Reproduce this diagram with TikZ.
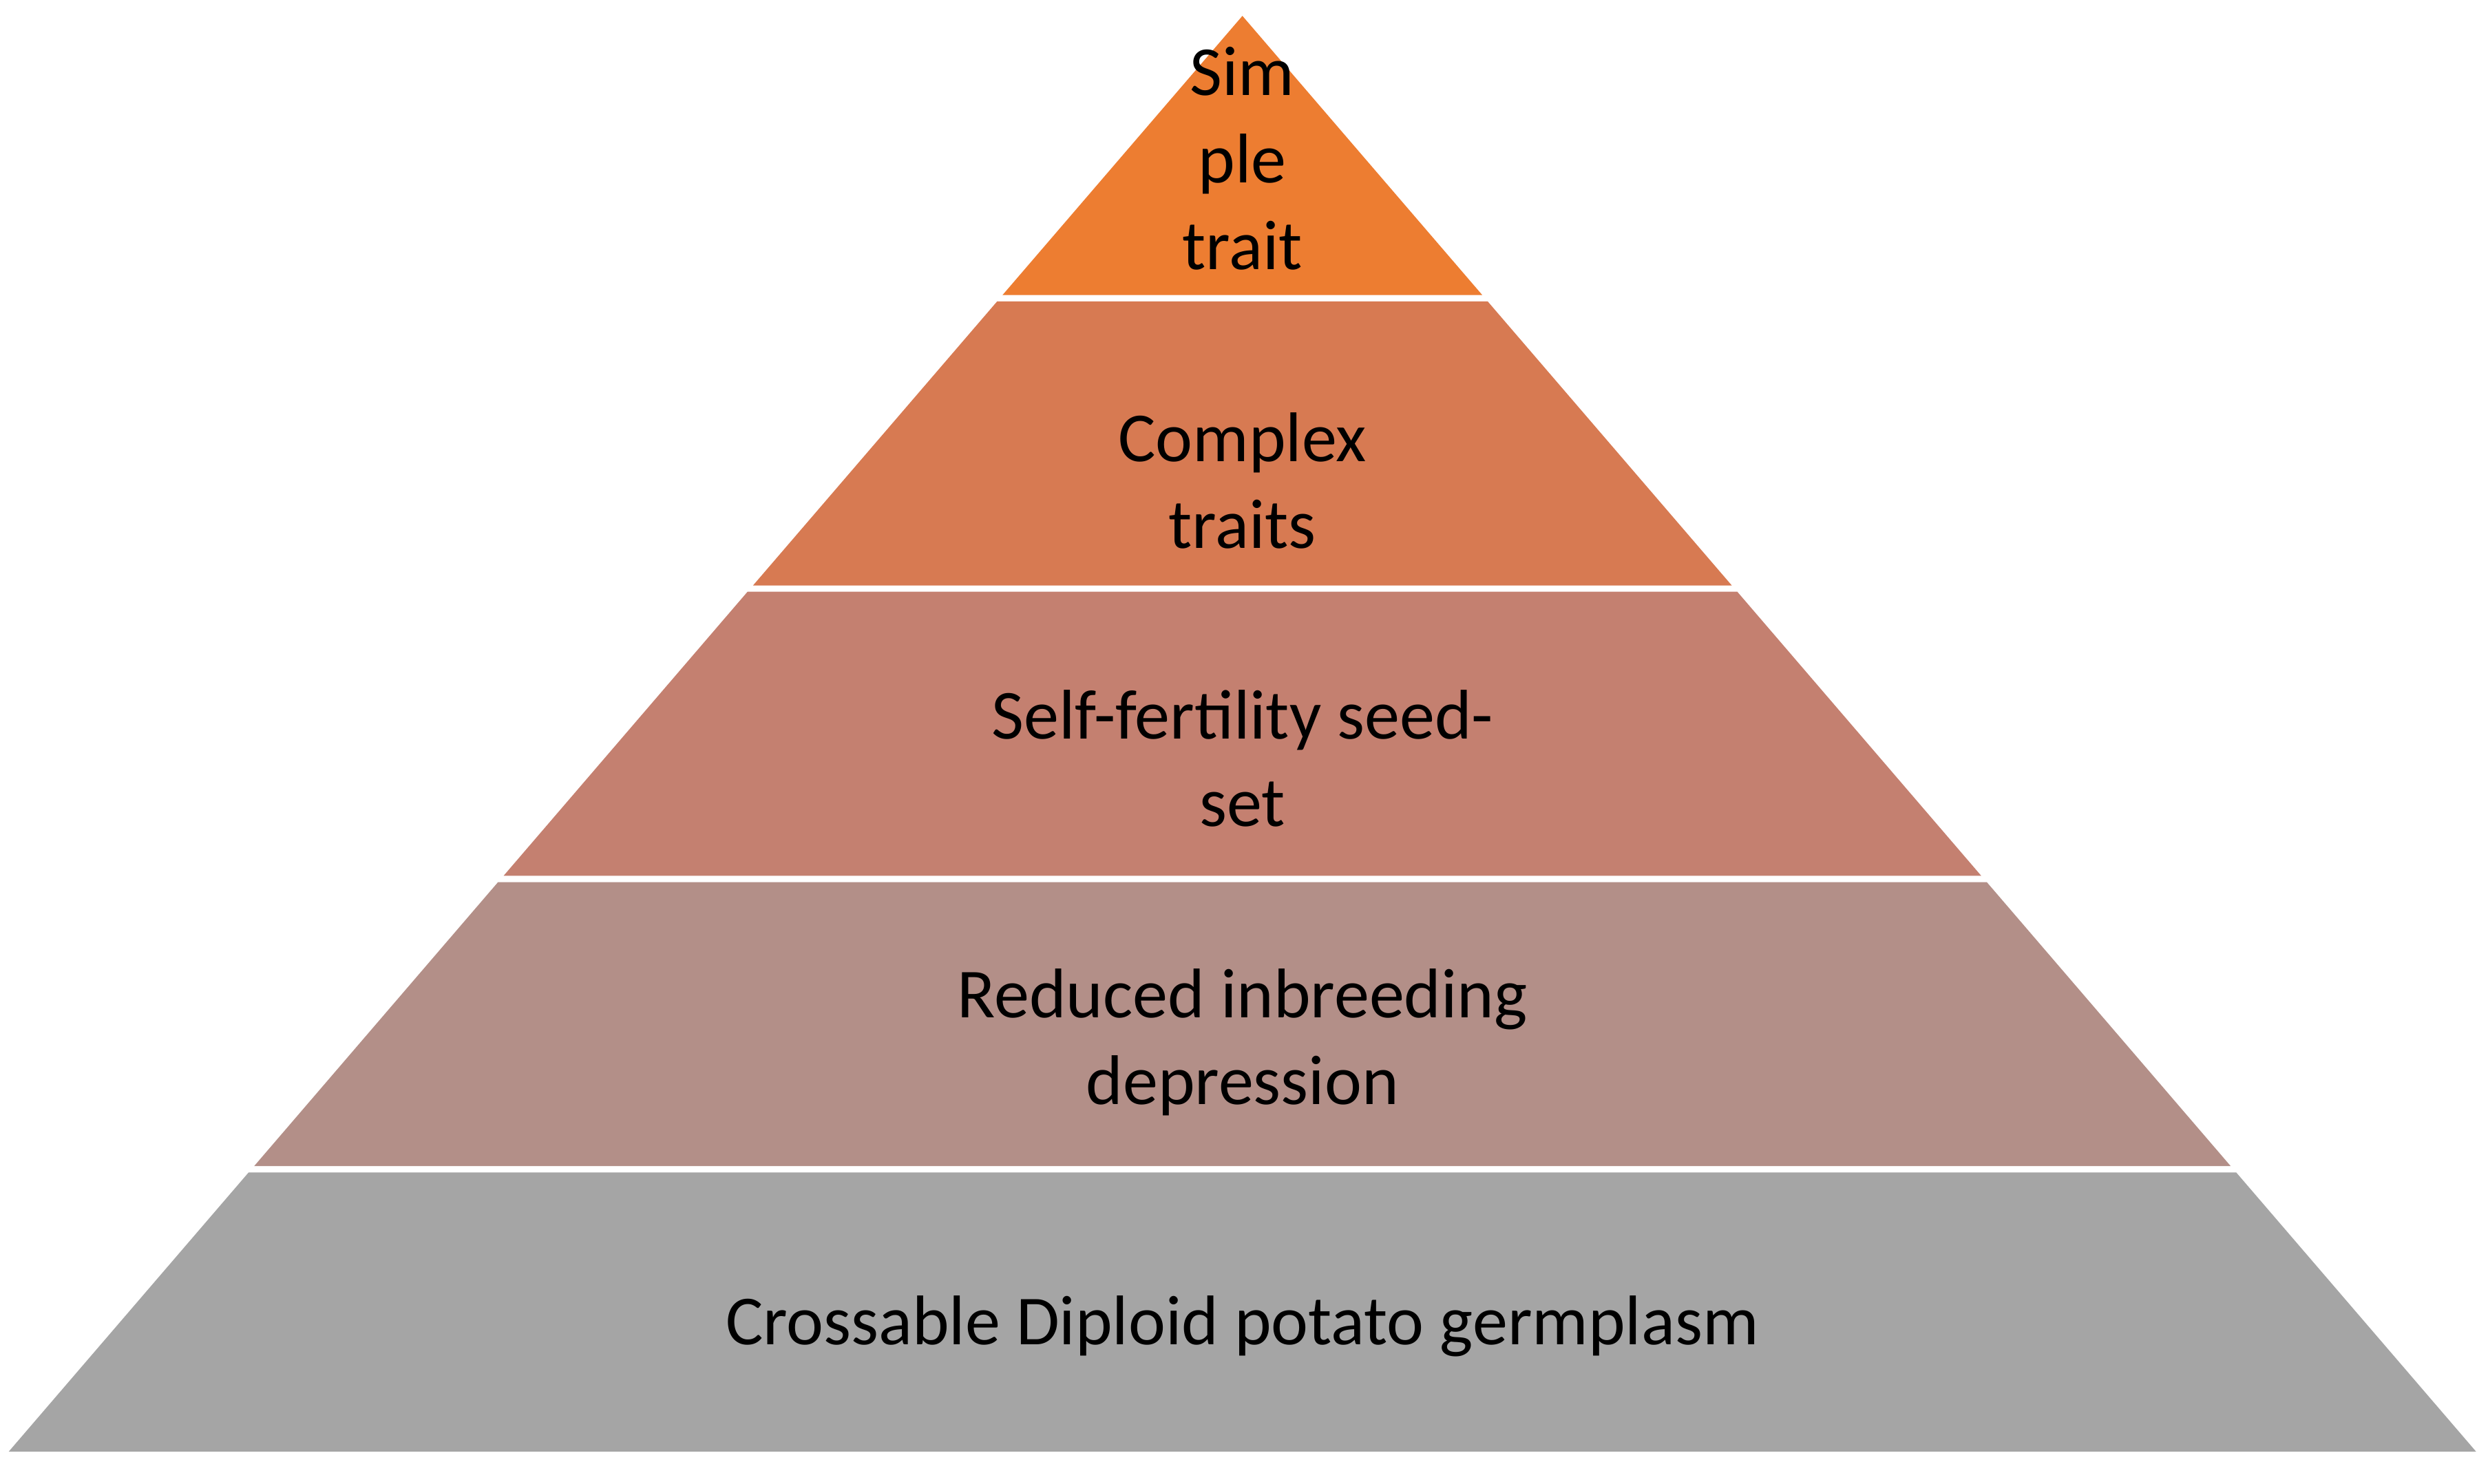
\documentclass[tikz,border=0pt]{standalone}
\usepackage{fontspec}
\setmainfont{Carlito}
\definecolor{c1}{HTML}{ED7D31}
\definecolor{c2}{HTML}{D77A52}
\definecolor{c3}{HTML}{C48070}
\definecolor{c4}{HTML}{B38F88}
\definecolor{c5}{HTML}{A5A5A5}
\begin{document}
\begin{tikzpicture}[x=0.01cm,y=-0.01cm,
  lbl/.style={align=center,font=\fontsize{12.6}{15.6}\selectfont,text=black}]
\useasboundingbox (0,0) rectangle (1568,935);
\fill[c1] (783,10) -- (934.2,186) -- (631.8,186) -- cycle;
\fill[c2] (628.4,190) -- (937.6,190) -- (1091.4,369) -- (474.6,369) -- cycle;
\fill[c3] (471.1,373) -- (1094.9,373) -- (1248.6,552) -- (317.4,552) -- cycle;
\fill[c4] (313.9,556) -- (1252.1,556) -- (1405.8,735) -- (160.2,735) -- cycle;
\fill[c5] (156.7,739) -- (1409.3,739) -- (1560.5,915) -- (5.5,915) -- cycle;
\node[lbl] (t1) at (783,100) {Sim\\ple\\trait};
\node[lbl] (t2) at (783,303) {Complex\\traits};
\node[lbl] (t3) at (783,478) {Self-fertility seed-\\set};
\node[lbl] (t4) at (783,657) {Reduced inbreeding\\depression};
\node[lbl] (t5) at (783,836) {Crossable Diploid potato germplasm};
\end{tikzpicture}
\end{document}
